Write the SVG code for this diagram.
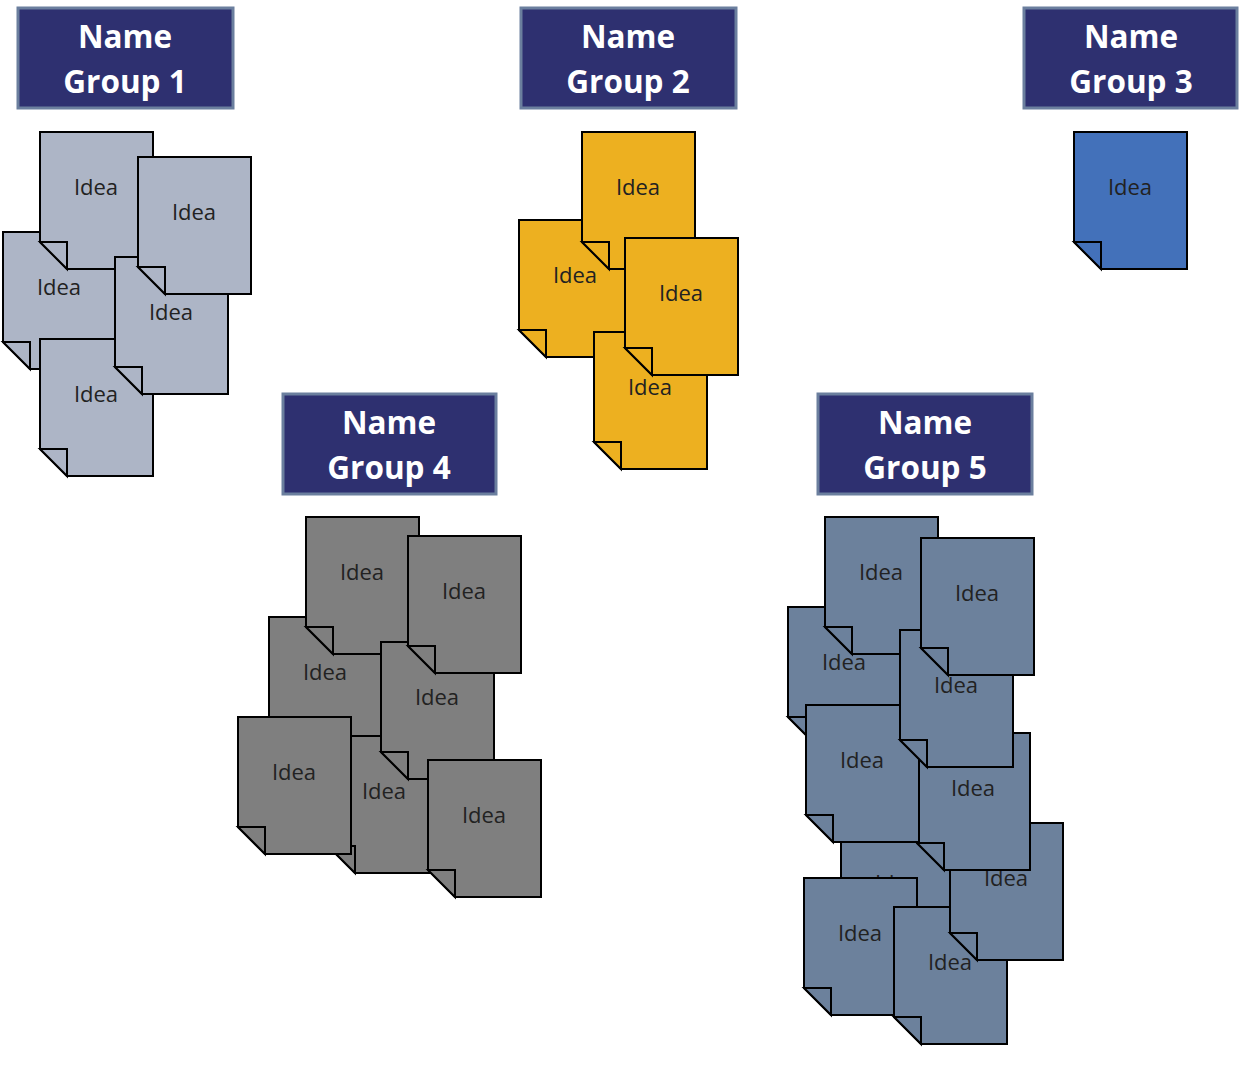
<svg xmlns="http://www.w3.org/2000/svg" width="1239" height="1087" viewBox="0 0 1239 1087">
<style>
.h rect{fill:#2E3070;stroke:#6B7F9E;stroke-width:3}
.h text{fill:#fff;font-family:"Open Sans","Liberation Sans",sans-serif;font-weight:bold;font-size:31.5px;text-anchor:middle}
.g1{fill:#ADB5C6}.g2{fill:#EDB020}.g3{fill:#4371BA}.g4{fill:#7F7F7F}.g5{fill:#6C819C}
</style>
<defs>
<g id="note" stroke="#000" stroke-width="2"><path d="M0,0H113V137H27L0,110Z"/><path d="M0,110H27V137Z"/><text x="56" y="63" stroke="none" fill="#222" font-family="Open Sans, DejaVu Sans, sans-serif" font-size="22" text-anchor="middle">Idea</text></g>
</defs>
<g id="h1" class="h"><rect x="18" y="8" width="215" height="100"/><text x="125" y="48">Name</text><text x="125" y="93">Group 1</text></g>
<g id="h2" class="h"><rect x="521" y="8" width="215" height="100"/><text x="628" y="48">Name</text><text x="628" y="93">Group 2</text></g>
<g id="h3" class="h"><rect x="1024" y="8" width="213" height="100"/><text x="1131" y="48">Name</text><text x="1131" y="93">Group 3</text></g>
<g id="h4" class="h"><rect x="283" y="394" width="213" height="100"/><text x="389" y="434">Name</text><text x="389" y="479">Group 4</text></g>
<g id="h5" class="h"><rect x="818" y="394" width="214" height="100"/><text x="925" y="434">Name</text><text x="925" y="479">Group 5</text></g>
<g id="group1" class="g1">
<use href="#note" x="3" y="232"/><use href="#note" x="40" y="132"/><use href="#note" x="40" y="339"/><use href="#note" x="115" y="257"/><use href="#note" x="138" y="157"/>
</g>
<g id="group2" class="g2">
<use href="#note" x="519" y="220"/><use href="#note" x="582" y="132"/><use href="#note" x="594" y="332"/><use href="#note" x="625" y="238"/>
</g>
<g id="group3" class="g3"><use href="#note" x="1074" y="132"/></g>
<g id="group4" class="g4">
<use href="#note" x="269" y="617"/><use href="#note" x="306" y="517"/><use href="#note" x="328" y="736"/><use href="#note" x="381" y="642"/><use href="#note" x="408" y="536"/><use href="#note" x="238" y="717"/><use href="#note" x="428" y="760"/>
</g>
<g id="group5" class="g5">
<use href="#note" x="788" y="607"/><use href="#note" x="825" y="517"/><use href="#note" x="841" y="828"/><use href="#note" x="804" y="878"/><use href="#note" x="894" y="907"/><use href="#note" x="950" y="823"/><use href="#note" x="917" y="733"/><use href="#note" x="806" y="705"/><use href="#note" x="900" y="630"/><use href="#note" x="921" y="538"/>
</g>
<g id="connectors"/>
</svg>
